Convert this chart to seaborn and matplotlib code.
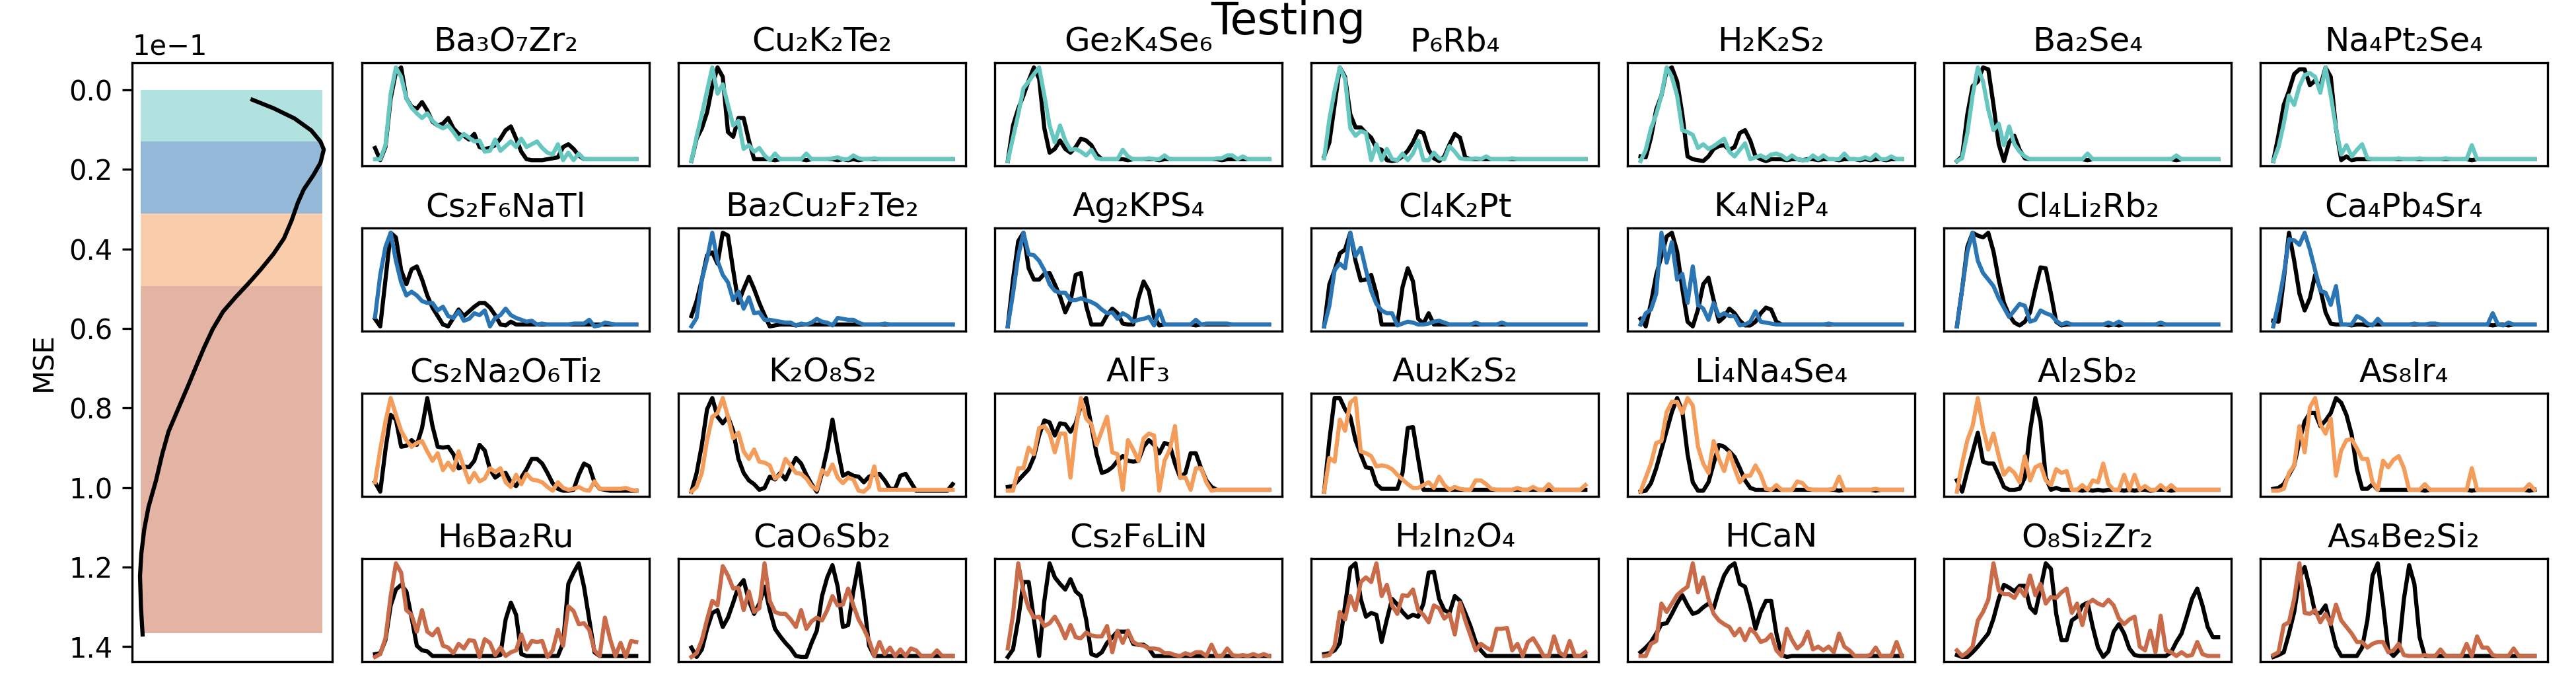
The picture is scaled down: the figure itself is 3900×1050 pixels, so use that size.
import matplotlib
matplotlib.use("Agg")
import matplotlib.pyplot as plt
import pandas as pd
import seaborn as sns

TITLES = [
    ["Ba₃O₇Zr₂", "Cu₂K₂Te₂", "Ge₂K₄Se₆", "P₆Rb₄", "H₂K₂S₂", "Ba₂Se₄", "Na₄Pt₂Se₄"],
    ["Cs₂F₆NaTl", "Ba₂Cu₂F₂Te₂", "Ag₂KPS₄", "Cl₄K₂Pt", "K₄Ni₂P₄", "Cl₄Li₂Rb₂", "Ca₄Pb₄Sr₄"],
    ["Cs₂Na₂O₆Ti₂", "K₂O₈S₂", "AlF₃", "Au₂K₂S₂", "Li₄Na₄Se₄", "Al₂Sb₂", "As₈Ir₄"],
    ["H₆Ba₂Ru", "CaO₆Sb₂", "Cs₂F₆LiN", "H₂In₂O₄", "HCaN", "O₈Si₂Zr₂", "As₄Be₂Si₂"],
]
ROW_COLORS = ["#66c7c1", "#2a75b3", "#f49c5a", "#c96a48"]
BAND_COLORS = ROW_COLORS
BAND_EDGES = [0.0, 0.01296, 0.03106, 0.04938, 0.13669]
BAND_LEFT, BAND_RIGHT = 0.007, 0.993

MSE_GRID = [.00246, .00458, .00715, .01017, .01296, .01497, .01832, .02145, .02503, .02838, .03285,
            .03732, .04123, .04514, .04871, .05207, .05575, .06022, .06469, .06972, .07475, .08089,
            .08592, .09151, .09821, .10492, .1105, .11665, .12223, .13006, .13698]
MSE_DENSITY = [.613, .727, .841, .932, .982, 1.0, .982, .943, .891, .859, .825, .784, .727, .658, .59,
               .522, .453, .396, .351, .305, .26, .203, .157, .123, .089, .048, .025, .009, .002, .007, .016]
MSE_TICKS = [0.0, 0.02, 0.04, 0.06, 0.08, 0.10, 0.12, 0.14]

# ---- true (black) and predicted (coloured) curves, row by row ----
T_BaOZr = [14,1,15,67,95,100,67,58,56,63,54,42,38,40,46,35,29,27,23,29,15,13,14,17,24,33,37,24,10,2,1,1,1,2,3,4,15,18,13,6,2,2,2,2,2,2,2,2,2,2,2]
P_BaOZr = [2,2,17,72,100,90,67,57,51,46,51,43,38,35,38,31,23,29,25,21,22,10,11,23,11,16,21,15,24,15,18,21,14,9,7,18,1,9,1,8,2,2,2,2,2,2,2,2,2,2,2]
T_CuKTe = [0,24,35,52,80,100,90,31,26,46,46,22,2,2,2,2,1,2,2,2,2,2,1,2,2,2,2,2,1,2,1,2,1,2,2,2,2,2,2,2,2,2,2,2,2,2,2,2,2,2,2]
P_CuKTe = [0,26,50,75,100,72,82,60,38,43,13,17,10,14,6,1,8,2,2,2,2,2,8,2,2,2,2,3,4,2,2,6,3,2,2,3,2,2,2,2,2,2,2,2,2,2,2,2,2,2,2]
T_GeKSe = [0,38,56,70,86,100,88,35,9,13,22,13,9,15,24,22,17,7,2,2,2,2,2,1,2,2,2,2,2,1,2,2,2,2,2,2,2,2,2,2,2,1,2,2,2,2,2,2,2,2,2]
P_GeKSe = [0,25,50,78,85,93,100,70,38,20,38,22,12,13,10,6,12,3,2,2,2,2,12,5,2,2,2,3,2,2,6,2,2,2,2,2,2,2,2,2,3,3,6,6,2,5,2,2,2,2,2]
T_PRb = [5,20,60,100,90,50,36,36,30,25,14,12,1,0,1,5,11,20,32,30,12,3,0,5,18,29,25,4,2,2,2,2,2,2,2,2,2,2,2,2,2,2,2,2,2,2,2,2,2,2,2]
P_PRb = [3,45,75,100,88,35,27,32,30,1,18,1,13,2,1,8,1,8,22,1,1,9,3,2,16,10,3,2,2,3,2,5,2,2,2,2,3,2,2,2,2,2,2,2,2,2,2,2,2,2,2]
T_HKS = [5,4,25,55,70,97,100,85,50,5,2,1,0,5,13,16,17,12,15,30,33,22,5,2,0,2,2,2,1,2,2,1,2,2,1,2,2,2,1,2,2,2,1,2,1,2,2,1,2,2,2]
P_HKS = [0,12,35,50,70,100,90,70,33,31,28,14,18,13,16,20,24,10,5,12,19,2,4,6,3,7,8,6,2,6,2,1,1,6,2,6,2,2,2,8,2,2,2,4,2,7,2,2,5,2,2]
T_BaSe = [0,5,50,80,85,100,98,60,18,0,20,27,12,3,2,2,2,2,2,2,2,2,2,2,2,1,2,2,2,2,2,2,2,2,2,2,2,2,2,2,2,2,1,2,2,2,2,2,2,2,2]
P_BaSe = [0,3,30,70,100,85,55,33,40,17,37,18,10,5,2,2,2,2,2,2,2,2,2,2,2,8,2,2,2,2,2,2,2,2,2,2,2,2,2,2,2,2,6,2,2,2,2,2,2,2,2]
T_NaPtSe = [0,28,60,75,93,98,98,81,86,80,100,90,35,1,5,1,2,2,2,2,2,2,2,2,2,2,2,2,2,2,2,2,2,2,2,2,2,2,1,2,2,2,2,2,2,2,2,2,2,2,2]
P_NaPtSe = [0,15,40,70,60,80,92,94,90,73,100,70,35,7,17,5,12,18,3,2,2,2,2,2,3,2,2,2,3,2,2,2,2,3,2,2,2,2,17,2,2,2,2,2,2,2,2,2,2,2,2]

T_CsFNaTl = [8,0,50,100,95,60,45,61,64,50,33,20,11,2,0,9,18,11,16,21,25,25,20,12,2,1,5,2,2,2,2,2,2,2,2,2,2,2,2,2,2,2,2,2,2,2,2,2,2,2,2]
P_CsFNaTl = [10,55,85,100,70,47,33,37,33,27,25,25,17,21,11,9,16,6,8,14,12,17,0,9,12,19,12,9,7,5,6,2,3,2,2,2,2,2,3,3,3,7,0,1,4,3,2,2,2,2,2]
T_BaCuFTe = [11,27,50,76,79,67,100,97,60,25,40,53,40,25,12,0,1,2,2,2,1,2,2,2,2,2,2,2,2,2,2,2,2,2,2,2,2,2,2,2,2,2,2,2,2,2,2,2,2,2,2]
P_BaCuFTe = [0,9,50,72,100,70,55,47,28,37,19,31,14,15,7,7,6,5,4,4,1,3,2,4,8,5,4,1,9,8,7,7,4,2,2,2,2,3,2,2,2,2,2,2,2,2,2,2,2,2,2]
T_AgKPS = [0,50,91,100,62,50,50,56,57,45,32,15,27,55,57,22,2,2,2,12,19,14,3,2,2,30,48,38,10,1,2,2,2,2,2,2,1,2,2,2,2,2,2,2,2,2,2,2,2,2,2]
P_AgKPS = [0,35,75,100,77,76,70,60,45,38,36,36,28,28,30,28,26,23,18,14,15,8,14,11,5,7,8,10,1,17,2,2,2,2,2,2,7,2,3,3,3,3,3,2,2,2,2,2,2,2,2]
T_ClKPt = [0,45,60,78,82,100,70,49,50,55,35,2,2,2,2,42,62,48,8,3,14,2,2,2,2,2,2,2,2,2,2,2,2,2,2,2,2,2,2,2,2,2,2,2,2,2,2,2,2,2,2]
P_ClKPt = [0,22,60,67,62,100,75,84,60,38,24,17,14,14,1,3,5,4,2,2,3,5,6,4,2,2,2,2,2,4,2,2,2,2,4,2,2,2,2,2,2,2,2,2,2,2,2,2,2,2,2]
T_KNiP = [8,0,25,55,75,96,100,80,40,5,0,18,45,52,28,5,10,19,14,6,1,1,5,14,20,18,5,2,2,2,2,2,2,2,2,2,2,2,2,2,2,2,2,2,2,2,2,2,2,2,2]
P_KNiP = [2,14,18,35,100,68,90,50,56,25,64,23,19,7,25,11,14,11,11,1,2,5,16,5,4,3,2,2,2,2,2,2,2,2,2,2,3,2,2,2,2,2,2,2,2,2,2,2,2,2,2]
T_ClLiRb = [0,40,85,100,97,95,100,80,50,25,12,4,1,5,15,40,63,62,35,5,1,2,2,2,2,2,2,2,2,1,2,1,2,2,2,2,2,2,2,2,2,2,2,2,2,2,2,2,2,2,2]
P_ClLiRb = [0,40,80,100,70,57,50,43,30,20,10,17,24,22,5,7,17,14,12,6,2,4,2,2,2,2,2,2,2,4,2,5,2,2,2,2,2,2,2,4,2,2,2,2,2,2,2,2,2,2,2]
T_CaPbSr = [6,5,50,100,70,35,17,30,55,40,15,3,2,2,2,1,2,2,1,2,2,2,2,2,2,2,2,2,2,2,2,2,2,2,2,2,2,2,2,2,2,2,1,2,2,1,2,2,2,2,2]
P_CaPbSr = [0,25,55,93,92,87,100,82,60,38,36,23,43,2,2,2,11,8,3,1,8,2,2,2,2,2,2,3,2,2,3,3,2,2,2,2,2,2,2,2,2,2,14,2,1,4,2,2,2,2,2]

T_CsNaOTi = [10,0,45,82,77,48,49,55,50,68,100,70,48,47,48,40,25,27,26,33,50,44,24,15,19,20,10,6,15,24,35,35,30,20,9,3,1,1,2,18,30,27,10,3,2,1,1,1,1,1,1]
P_CsNaOTi = [10,45,75,100,82,65,55,48,52,54,43,33,41,23,31,23,43,26,10,20,11,14,25,21,25,10,5,18,8,19,13,12,10,5,1,10,4,2,3,5,2,1,11,3,3,3,3,3,4,2,1]
T_KOS = [0,20,50,88,100,80,73,80,65,35,20,12,8,2,4,16,13,20,13,25,36,30,18,8,0,20,45,77,45,17,20,17,16,10,16,18,19,12,3,3,17,19,10,1,1,1,1,1,1,1,8]
P_KOS = [0,5,20,55,80,84,100,80,57,63,43,35,45,32,31,28,14,18,35,28,20,19,14,6,2,23,18,29,15,9,15,13,1,0,5,27,2,2,2,2,2,2,2,2,2,2,2,2,2,2,2]
T_AlF = [5,6,12,18,24,37,60,76,74,60,73,72,64,73,92,100,70,40,20,22,26,33,38,33,32,33,48,55,50,41,52,50,30,15,20,41,41,25,12,5,2,2,2,2,2,2,2,2,2,2,2]
P_AlF = [1,1,25,25,47,40,68,70,62,42,62,62,15,66,100,78,72,50,65,80,42,40,2,55,45,33,57,62,60,1,33,45,70,15,15,2,25,25,10,1,2,2,2,2,2,2,2,2,2,2,2]
T_AuKS = [0,55,100,100,88,80,55,40,26,25,8,3,3,3,3,20,68,69,35,2,2,2,2,2,2,2,2,2,2,2,2,2,2,2,2,2,2,2,2,2,2,2,2,2,2,2,2,2,2,2,2]
P_AuKS = [0,36,32,77,65,95,100,43,41,38,27,28,27,24,18,13,8,4,4,7,10,4,16,7,2,5,3,2,2,12,12,8,3,2,2,2,2,4,2,2,5,2,2,8,2,2,2,2,2,2,7]
T_LiNaSe = [0,1,9,25,45,65,85,100,86,40,10,1,1,10,30,50,48,43,37,25,12,4,2,2,2,2,2,2,2,2,2,2,2,2,2,2,2,2,1,2,2,2,2,2,2,1,2,2,2,2,2]
P_LiNaSe = [0,15,30,52,54,85,96,96,84,100,92,48,30,20,54,35,22,42,25,10,17,17,28,18,3,2,7,2,2,2,11,9,3,2,2,2,2,3,16,2,2,2,2,2,2,3,2,2,2,2,2]
T_AlSb = [12,0,22,42,63,32,30,30,18,5,2,2,3,15,65,100,75,15,2,4,2,2,2,2,1,2,1,2,1,2,2,2,1,2,1,2,2,1,2,2,2,1,2,2,2,2,2,2,2,2,2]
P_AlSb = [0,30,55,70,100,68,45,62,38,18,25,20,10,38,12,26,29,12,7,24,20,22,2,2,7,2,12,10,30,8,2,2,18,2,18,2,6,2,2,7,2,7,2,2,2,2,2,2,2,2,2]
T_AsIr = [3,4,8,18,28,54,75,84,84,70,76,84,100,95,82,61,24,3,3,8,2,2,2,2,2,2,2,2,2,1,2,2,2,2,2,2,2,2,1,2,2,2,2,2,2,2,2,2,2,1,2]
P_AsIr = [1,1,3,20,28,70,42,90,100,72,62,78,17,44,55,56,46,35,35,10,2,33,26,34,38,25,2,2,2,8,2,2,2,2,2,2,2,2,25,2,2,2,2,2,2,2,2,2,2,8,2]

T_HBaRu = [3,4,18,55,72,77,70,42,12,7,6,1,1,1,1,1,1,1,1,1,1,1,1,1,2,40,58,45,3,1,1,1,1,1,1,1,15,78,90,100,75,40,5,1,1,1,1,1,1,1,1]
P_HBaRu = [0,3,20,65,100,90,50,45,27,50,27,23,30,12,10,4,14,9,18,17,0,19,15,2,10,1,5,7,24,8,17,16,17,0,7,29,12,54,49,35,36,29,7,1,42,19,1,15,0,17,16]
T_CaOSb = [10,0,8,30,47,50,32,42,58,75,82,60,46,57,75,50,30,22,15,9,1,0,0,15,28,65,85,98,75,32,34,70,100,60,12,1,1,1,1,1,1,1,1,1,1,1,1,1,1,1,1]
P_CaOSb = [0,4,18,40,60,55,97,87,73,74,50,70,48,52,100,60,48,46,46,40,32,50,30,38,42,39,50,65,55,56,73,55,40,30,18,1,16,3,10,1,8,1,9,7,1,1,1,7,1,1,1]
T_CsFLiN = [0,8,40,80,80,40,1,60,100,85,78,72,83,70,65,40,3,1,5,15,21,27,27,27,14,13,13,9,1,1,1,1,1,1,1,1,1,1,1,1,1,1,1,1,1,1,1,1,1,1,1]
P_CsFLiN = [9,45,100,70,52,42,43,33,36,43,33,20,34,21,20,26,23,22,22,33,5,28,15,28,16,13,12,9,9,8,4,4,2,1,4,2,5,5,1,13,1,1,9,2,1,2,1,3,1,3,1]
T_HInO = [3,4,7,15,55,95,100,62,43,47,45,16,40,62,56,48,42,45,43,57,90,91,62,50,47,65,60,47,33,16,7,1,1,1,1,1,1,1,1,1,1,1,1,1,1,1,1,1,1,1,1]
P_HInO = [1,2,12,48,40,65,50,80,85,80,100,65,77,55,46,66,65,72,50,45,37,55,52,41,46,24,58,39,23,7,14,10,7,30,30,31,7,14,1,16,20,11,1,1,22,5,1,17,1,1,5]
T_HCaN = [5,10,16,25,35,36,46,57,66,55,46,48,53,57,52,71,87,96,100,78,75,55,30,48,60,60,25,2,0,1,1,1,1,1,1,1,1,1,1,1,1,1,1,1,1,1,1,1,1,1,1]
P_HCaN = [1,1,14,17,57,48,57,66,71,75,100,69,85,62,46,39,35,32,23,30,18,30,25,16,18,24,7,1,30,18,9,14,27,8,11,7,11,5,25,11,7,1,1,1,2,10,1,1,1,16,1]
T_OSiZr = [2,0,0,5,11,18,25,41,62,77,74,70,76,76,53,47,73,100,94,46,18,18,39,43,55,58,32,10,0,6,27,35,25,9,2,1,1,1,1,1,1,5,16,25,43,62,73,55,32,21,21]
P_OSiZr = [7,1,5,11,39,48,61,100,71,67,67,63,73,65,87,66,78,57,64,63,69,73,47,57,34,57,61,57,55,61,55,41,35,40,43,11,7,28,5,44,7,5,1,5,1,2,16,3,1,1,1]
T_AsBeSi = [0,2,5,25,48,84,96,73,47,47,55,34,11,1,1,1,1,10,39,87,100,57,7,1,7,62,98,78,21,1,1,1,1,1,1,1,1,1,1,1,1,1,1,1,1,1,1,1,1,1,1]
P_AsBeSi = [2,5,34,37,62,100,47,46,50,37,46,35,56,39,32,25,16,16,10,14,16,16,5,7,14,2,1,1,1,2,1,1,8,1,1,1,1,14,1,22,10,10,2,1,1,1,9,1,1,1,1]

TRUE_ROWS = [
    [T_BaOZr, T_CuKTe, T_GeKSe, T_PRb, T_HKS, T_BaSe, T_NaPtSe],
    [T_CsFNaTl, T_BaCuFTe, T_AgKPS, T_ClKPt, T_KNiP, T_ClLiRb, T_CaPbSr],
    [T_CsNaOTi, T_KOS, T_AlF, T_AuKS, T_LiNaSe, T_AlSb, T_AsIr],
    [T_HBaRu, T_CaOSb, T_CsFLiN, T_HInO, T_HCaN, T_OSiZr, T_AsBeSi],
]
PRED_ROWS = [
    [P_BaOZr, P_CuKTe, P_GeKSe, P_PRb, P_HKS, P_BaSe, P_NaPtSe],
    [P_CsFNaTl, P_BaCuFTe, P_AgKPS, P_ClKPt, P_KNiP, P_ClLiRb, P_CaPbSr],
    [P_CsNaOTi, P_KOS, P_AlF, P_AuKS, P_LiNaSe, P_AlSb, P_AsIr],
    [P_HBaRu, P_CaOSb, P_CsFLiN, P_HInO, P_HCaN, P_OSiZr, P_AsBeSi],
]

W, H = 3900, 1050
fig = plt.figure(figsize=(13, 3.5), dpi=300)
top, bottom = 1 - 95 / H, 1 - 1001 / H

# left MSE density panel
gs_left = fig.add_gridspec(1, 1, left=200 / W, right=503 / W, top=top, bottom=bottom)
ax0 = fig.add_subplot(gs_left[0, 0])
for lo, hi, c in zip(BAND_EDGES[:-1], BAND_EDGES[1:], BAND_COLORS):
    ax0.fill_betweenx([lo, hi], BAND_LEFT, BAND_RIGHT, color=c, alpha=0.5, linewidth=0)
sns.lineplot(data=pd.DataFrame({"density": MSE_DENSITY, "mse": MSE_GRID}), x="density", y="mse",
             sort=False, estimator=None, errorbar=None, color="black", linewidth=1.5, ax=ax0)
ax0.set_xlim(-0.041, 1.046)
ax0.set_ylim(0.1438, -0.00685)
ax0.set_yticks(MSE_TICKS)
ax0.ticklabel_format(axis="y", style="sci", scilimits=(-1, -1))
ax0.set_xticks([])
ax0.set_xlabel("")
ax0.set_ylabel("MSE")

# small-multiple panels
gs = fig.add_gridspec(4, 7, left=548 / W, right=3857 / W, top=top, bottom=bottom, hspace=0.605, wspace=0.101)
for r, titles in enumerate(TITLES):
    for c, title in enumerate(titles):
        ax = fig.add_subplot(gs[r, c])
        t_vals, p_vals = TRUE_ROWS[r][c], PRED_ROWS[r][c]
        sns.lineplot(x=list(range(len(t_vals))), y=t_vals, color="black", linewidth=1.5,
                     estimator=None, errorbar=None, ax=ax)
        sns.lineplot(x=list(range(len(p_vals))), y=p_vals, color=ROW_COLORS[r], linewidth=1.5,
                     estimator=None, errorbar=None, ax=ax)
        ax.set_xlim(-2.5, 52.5)
        ax.set_ylim(-5, 105)
        ax.set_xticks([])
        ax.set_yticks([])
        ax.set_title(title, fontsize=12, pad=4.3)

fig.text(0.5, 1 - 52 / H, "Testing", ha="center", va="baseline", fontsize=16)
fig.savefig("out.png", dpi=300)
